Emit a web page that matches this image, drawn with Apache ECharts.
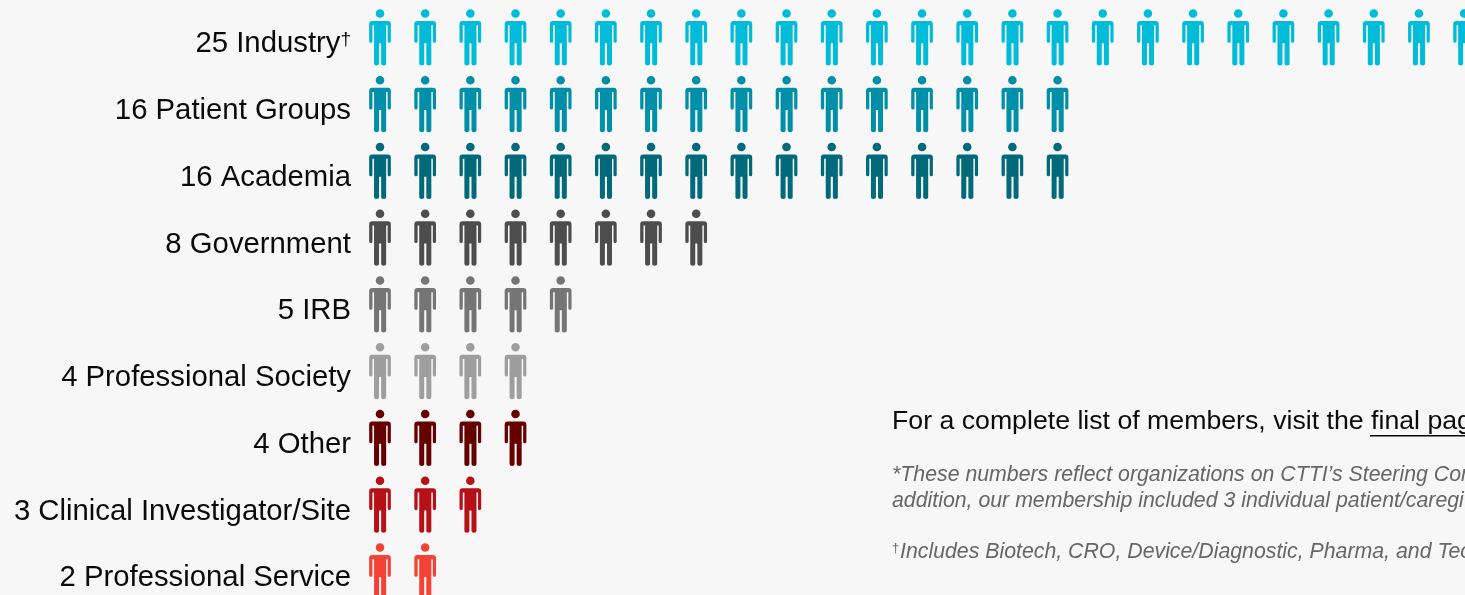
<!DOCTYPE html>
<html><head><meta charset="utf-8">
<style>html,body{margin:0;padding:0;background:#f7f7f7;overflow:hidden}#c{width:1465px;height:595px}</style>
<script src="https://cdn.jsdelivr.net/npm/echarts@6/dist/echarts.min.js"></script>
</head><body><div id="c"></div>
<script>
const categories = ["25 Industry","16 Patient Groups","16 Academia","8 Government","5 IRB","4 Professional Society","4 Other","3 Clinical Investigator/Site","2 Professional Service"];
const counts = [25,16,16,8,5,4,4,3,2];
const colors = ["#00bcd9","#008fa8","#00697a","#4d4d4d","#757575","#9e9e9e","#660000","#b71118","#f44336"];
const person = "path://M10.85 0A4.3 4.3 0 1 1 10.85 8.6A4.3 4.3 0 1 1 10.85 0ZM3 11.7H18.7A3 3 0 0 1 21.7 14.7V32A1.6 1.5 0 0 1 18.5 32V16H17V54.5A2.5 1.8 0 0 1 12 54.5V34H9.9V54.5A2.5 1.8 0 0 1 4.9 54.5V16H3.3V32A1.6 1.5 0 0 1 0 32V14.7A3 3 0 0 1 3 11.7Z";
const chart = echarts.init(document.getElementById('c'));
const F = '"Liberation Sans", Arial, sans-serif';
const x0 = 892;
chart.setOption({
  animation:false,
  backgroundColor:'#f7f7f7',
  grid:{left:380,top:4,width:1085,height:600.75,outerBoundsMode:'none',containLabel:false},
  xAxis:{type:'value',min:0,max:24.02,show:false},
  yAxis:{type:'category',inverse:true,data:categories,
    axisLine:{show:false},axisTick:{show:false},splitLine:{show:false},
    axisLabel:{margin:29,fontFamily:F,fontSize:29.3,color:'#0a0a0a',align:'right',padding:[14,0,0,0],hideOverlap:false,
      formatter:(v,i)=> i===0 ? v+'{s|†}' : v,
      rich:{s:{fontFamily:F,fontSize:19,color:'#0a0a0a',verticalAlign:'top',padding:[0,0,8,0]}}}},
  series:categories.map((name,r)=>({
    type:'scatter',name,clip:false,symbol:person,symbolSize:[21.7,56.3],
    itemStyle:{color:colors[r],opacity:1},
    data:Array.from({length:counts[r]},(_,i)=>[i,r])
  })),
  graphic:[
    {type:'text',left:x0,top:408,style:{text:'For a complete list of members, visit the final page',font:'26.7px '+F,fill:'#0a0a0a'}},
    {type:'rect',shape:{x:1370,y:435,width:95,height:1.5},style:{fill:'#0a0a0a'}},
    {type:'text',left:x0,top:465,style:{text:"*These numbers reflect organizations on CTTI’s Steering Committee",font:'italic 21.3px '+F,fill:'#666'}},
    {type:'text',left:x0,top:491,style:{text:'addition, our membership included 3 individual patient/caregivers',font:'italic 21.3px '+F,fill:'#666'}},
    {type:'text',left:x0,top:542,style:{text:'†',font:'13px '+F,fill:'#666'}},
    {type:'text',left:x0+8,top:542,style:{text:'Includes Biotech, CRO, Device/Diagnostic, Pharma, and Technology',font:'italic 21.3px '+F,fill:'#666'}}
  ]
});
</script></body></html>
